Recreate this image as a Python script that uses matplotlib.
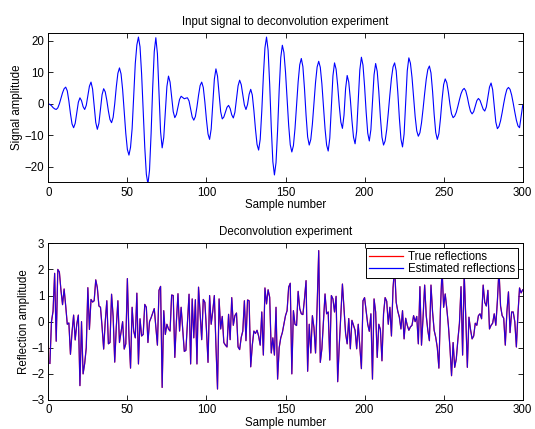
import numpy as np
import matplotlib
matplotlib.use("Agg")
import matplotlib.pyplot as plt
from matplotlib.lines import Line2D

plt.rcParams['font.family'] = ['Liberation Sans', 'DejaVu Sans']
plt.rcParams['font.size'] = 8.3

# ---- data: input signal (samples 0..300) ----
signal = [
    0, -0.2, -0.6, -1.2, -1.6, -1.8, -1.3, 0.0, 1.75, 3.5,
    4.8, 5.3, 4.1, 0.9, -3.1, -6.4, -7.6, -6.2, -2.85, 0.5,
    1.9, 1.0, -0.9, -1.8, -0.5, 2.55, 5.6, 6.9, 4.7, -0.6,
    -5.9, -8.1, -6.2, -1.65, 2.9, 4.8, 3.8, 1.1, -2.3, -5.0,
    -6.0, -4.3, 0.0, 5.4, 9.7, 11.4, 9.5, 4.5, -2.45, -9.4,
    -14.5, -16.3, -13.8, -7.9, 2.45, 12.8, 18.7, 21.2, 18.1, 9.5,
    -2.15, -13.8, -22.4, -25.5, -21.1, -9.5, 5.0, 16.6, 21.0, 15.9,
    3.5, -8.9, -14.0, -10.7, -2.6, 5.5, 8.8, 6.9, 2.2, -2.5,
    -4.4, -3.4, -1.0, 1.4, 2.4, 2.0, 1.6, 1.8, 1.9, 0.9,
    -1.65, -4.2, -5.2, -4.05, -1.0, 2.7, 5.8, 6.9, 5.2, 0.6,
    -5.0, -9.6, -11.3, -8.0, -0.1, 7.8, 11.1, 8.8, 3.15, -2.5,
    -4.8, -4.2, -2.65, -1.1, -0.5, -1.5, -3.5, -4.5, -2.7, 1.5,
    5.7, 7.5, 6.1, 2.85, -0.4, -1.8, -0.2, 3.0, 4.6, 2.8,
    -2.1, -8.0, -12.9, -14.7, -11.3, -2.3, 8.8, 17.8, 21.2, 17.0,
    6.1, -7.5, -18.4, -22.6, -18.7, -8.4, 4.4, 14.7, 18.6, 16.3,
    10.1, 1.65, -6.8, -13.0, -15.3, -13.3, -7.9, -0.45, 7.0, 12.4,
    14.4, 11.8, 4.9, -3.6, -10.5, -13.1, -11.3, -6.45, 0.2, 6.85,
    11.7, 13.5, 11.6, 6.4, -0.75, -7.9, -13.1, -15.0, -10.9, -1.0,
    8.9, 13.0, 11.0, 5.8, -0.6, -5.8, -7.8, -3.6, 4.8, 9.0,
    6.9, 1.5, -5.2, -10.6, -12.7, -8.7, 1.05, 10.8, 14.8, 12.3,
    5.6, -2.6, -9.3, -11.8, -8.2, 0.5, 9.2, 12.8, 10.3, 3.9,
    -4.2, -10.6, -13.1, -11.8, -8.2, -2.9, 2.85, 8.1, 11.7, 13.0,
    10.5, 3.8, -4.5, -11.2, -13.7, -9.6, 0.45, 10.5, 14.6, 12.9,
    8.4, 2.15, -4.1, -8.6, -10.3, -9.2, -6.1, -1.6, 3.3, 7.8,
    10.9, 12.0, 9.8, 4.0, -3.3, -9.1, -11.3, -9.5, -4.7, 1.3,
    6.1, 7.9, 6.7, 3.7, -0.2, -3.2, -4.4, -3.9, -2.7, -0.8,
    1.3, 3.2, 4.4, 4.9, 4.1, 2.1, -0.4, -2.4, -3.2, -2.5,
    -0.75, 1.0, 1.7, 1.1, -0.3, -1.7, -2.3, -1.0, 2.15, 5.3,
    6.6, 4.5, -0.65, -5.8, -7.9, -7.2, -5.4, -2.8, 0.1, 2.7,
    4.6, 5.2, 4.6, 2.8, 0.2, -2.6, -5.2, -7.0, -7.6, -4.0,
    -0.5,
]

# ---- data: reflections (samples 1..300) ----
true_refl = [
    -1.6, 0.0, 0.4, 1.85, -0.75, 2.0, 1.9, 1.2, 0.65, 1.25,
    0.6, -0.1, -0.05, -1.25, -0.4, 0.25, -0.7, -0.1, 0.25, -2.45,
    0.0, -2.0, -1.6, -1.0, 1.3, -0.3, 0.85, 0.75, 0.8, 1.6,
    1.3, 0.6, 0.55, -0.2, -1.05, 0.0, 0.8, -0.85, -0.8, 1.05,
    0.2, -1.55, -0.2, 0.8, -0.8, -0.4, 0.0, -1.05, -0.85, 1.65,
    -0.55, -1.78, 0.55, -0.36, -0.62, 1.09, -1.62, 0.11, -0.55, -0.49,
    0.66, 0.55, -0.8, 0.0, 0.15, 0.32, 0.5, -0.2, -0.9, 1.2,
    1.35, -2.52, 0.42, -0.49, -0.1, -0.28, -0.36, 1.02, 1.0, -1.37,
    0.0, 1.07, -0.36, 0.55, -0.3, -1.14, -1.1, 0.0, 1.05, -1.62,
    0.87, -0.62, 0.84, -1.62, 1.32, 0.3, -0.69, 0.85, 0.74, -0.3,
    -1.56, 1.0, -0.1, 0.4, 1.0, -0.9, -2.58, 0.87, -0.28, 0.2,
    -0.8, -0.9, -0.97, 0.28, -0.69, 0.92, -0.14, 0.23, 0.33, -0.97,
    -1.07, -0.6, -0.36, 0.8, -0.73, 0.83, 0.8, -1.73, -0.9, -0.36,
    -0.45, -0.33, -0.55, -0.9, 0.37, -1.28, 1.29, 0.68, 1.22, 0.93,
    -1.2, -0.62, -1.28, 0.55, -2.2, -1.0, -0.62, -0.42, -0.1, 0.23,
    0.42, 1.32, 1.47, -2.0, 0.42, -0.1, -0.15, 1.16, 0.5, 0.3,
    0.27, 0.87, 1.57, -1.9, -0.1, -1.2, 0.23, -0.23, -1.2, 0.6,
    2.72, -1.56, -1.04, 0.0, 1.06, 0.3, 0.37, -1.47, 1.0, 0.87,
    0.37, 0.97, -2.3, -0.9, 0.3, 1.44, 0.52, -0.45, -0.85, 0.12,
    -1.04, 0.05, -0.14, -0.33, -1.04, -0.1, -0.97, -1.8, 0.8, 0.92,
    0.4, -0.1, -0.37, 0.3, -2.2, 0.87, 0.37, -1.37, -0.1, -0.3,
    -1.5, 0.3, 0.92, 0.78, -0.1, 0.55, -0.55, 1.29, 2.08, 0.74,
    0.4, 0.17, -0.28, 0.42, -0.66, 0.13, -0.14, -0.33, -0.2, -0.14,
    0.23, 0.0, 0.2, -0.85, 1.34, -0.9, 0.17, 1.4, 0.23, -0.33,
    -0.73, 1.4, 0.37, -0.33, -0.6, -1.0, -1.78, 0.5, 2.02, 0.55,
    1.06, 0.5, -0.14, -1.0, -2.07, -0.8, -1.75, -1.43, -0.7, -0.06,
    1.34, -1.28, 1.85, 0.17, -1.75, 0.17, -0.3, -0.66, -0.55, -0.06,
    -0.14, 0.23, 0.3, 0.11, 1.4, 0.74, 0.6, 1.2, -0.28, -0.14,
    -0.06, 0.3, -0.14, 0.8, 2.0, 0.6, 0.23, 0.13, -0.9, 0.37,
    1.14, -0.42, 0.37, 0.37, 0.0, -0.97, 0.3, 1.29, 1.1, 1.22,
]
est_refl = list(true_refl)  # estimate is visually indistinguishable

top_xticks = [0, 50, 100, 150, 200, 250, 300]
top_yticks = [-20, -10, 0, 10, 20]
bot_yticks = [-3, -2, -1, 0, 1, 2, 3]

fig = plt.figure(figsize=(5.35, 4.29), dpi=100)
ax1 = fig.add_axes([0.0903, 0.5746, 0.8867, 0.3485])
ax2 = fig.add_axes([0.0903, 0.0676, 0.8867, 0.3653])

def style(ax):
    ax.tick_params(direction='in', top=True, right=True, length=3.5, width=0.6,
                   labelsize=8.3, pad=3)
    for s in ax.spines.values():
        s.set_linewidth(0.7)

x_sig = np.arange(len(signal))
ax1.plot(x_sig, signal, color='#0000ff', lw=0.8)
ax1.set_xlim(0, 300)
ax1.set_ylim(-25, 22.5)
ax1.set_xticks(top_xticks)
ax1.set_yticks(top_yticks)
ax1.set_title('Input signal to deconvolution experiment', fontsize=8.3, pad=6)
ax1.set_xlabel('Sample number', labelpad=0.5)
ax1.set_ylabel('Signal amplitude', labelpad=1)
style(ax1)

x_ref = np.arange(1, len(true_refl) + 1)
ax2.plot(x_ref, true_refl, color='#ff0000', lw=0.9)
ax2.plot(x_ref, est_refl, color='#0000ff', lw=0.8, alpha=0.85)
ax2.set_xlim(0, 300)
ax2.set_ylim(-3, 3)
ax2.set_xticks(top_xticks)
ax2.set_yticks(bot_yticks)
ax2.set_title('Deconvolution experiment', fontsize=8.3, pad=6)
ax2.set_xlabel('Sample number', labelpad=0.5)
ax2.set_ylabel('Reflection amplitude', labelpad=1)
style(ax2)

handles = [Line2D([], [], color='#ff0000', lw=0.9), Line2D([], [], color='#0000ff', lw=0.9)]
leg = ax2.legend(handles, ['True reflections', 'Estimated reflections'], loc='upper right',
                 fancybox=False, framealpha=1, edgecolor='black', fontsize=8.3,
                 handlelength=3.0, borderpad=0.25, labelspacing=0.05, handletextpad=0.4,
                 borderaxespad=0.4)
leg.get_frame().set_linewidth(0.7)

fig.savefig('out.png', dpi=100)
